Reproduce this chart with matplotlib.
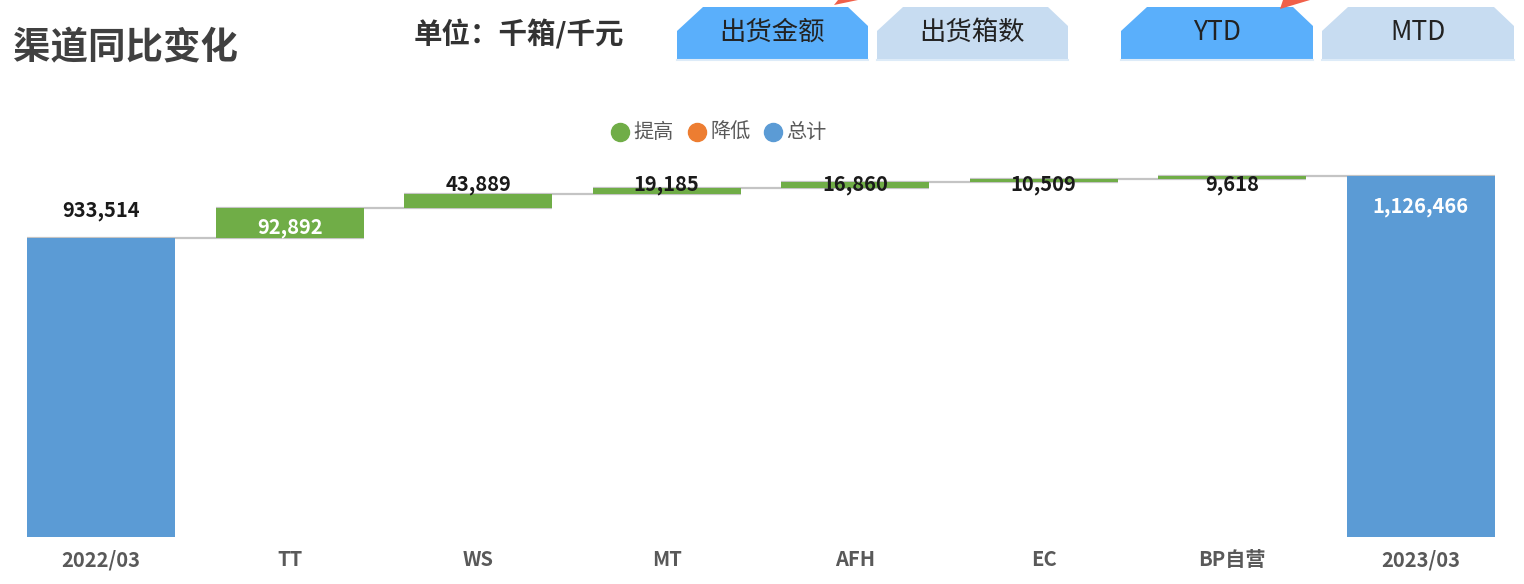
import matplotlib
matplotlib.use("Agg")
import matplotlib.pyplot as plt
from matplotlib.patches import Polygon
from matplotlib.lines import Line2D
import numpy as np

plt.rcParams['font.family'] = ['Noto Sans CJK SC', 'DejaVu Sans']

# ---- data ----
categories = ["2022/03", "TT", "WS", "MT", "AFH", "EC", "BP自营", "2023/03"]
start_total = 933514
changes = [92892, 43889, 19185, 16860, 10509, 9618]
end_total = 1126466
value_labels = ["933,514", "92,892", "43,889", "19,185", "16,860", "10,509", "9,618", "1,126,466"]
legend_labels = ["提高", "降低", "总计"]
title = "渠道同比变化"
unit_text = "单位：千箱/千元"
tab_labels = ["出货金额", "出货箱数", "YTD", "MTD"]

C_UP = "#70AD47"
C_DOWN = "#ED7D31"
C_TOTAL = "#5B9BD5"
C_TAB_ON = "#5AAFFB"
C_TAB_OFF = "#C7DCF1"

W, H = 1524, 584
fig = plt.figure(figsize=(W / 100, H / 100), dpi=100)

# main axes
ax_left, ax_right, ax_top, ax_bot = 7, 1515, 160, 537
ax = fig.add_axes([ax_left / W, (H - ax_bot) / H, (ax_right - ax_left) / W, (ax_bot - ax_top) / H])
ax.set_xlim(-0.5, len(categories) - 0.5)
ax.set_ylim(0, 1.176e6)

x = np.arange(len(categories))
bw = 0.785
cum = np.concatenate([[start_total], start_total + np.cumsum(changes)])
bottoms = [0] + list(cum[:-1]) + [0]
heights = [start_total] + changes + [end_total]
colors = [C_TOTAL] + [C_UP if c >= 0 else C_DOWN for c in changes] + [C_TOTAL]
ax.bar(x, heights, bottom=bottoms, width=bw, color=colors, zorder=2, linewidth=0)

# connectors
levels = list(cum)
for i, lv in enumerate(levels):
    ax.plot([x[i] - bw / 2, x[i + 1] + bw / 2], [lv, lv], color="#C4C4C4", lw=1.6, zorder=1,
            solid_capstyle="butt")

# labels
lab_kw = dict(ha="center", fontsize=14.5, fontweight="bold")
ax.annotate(value_labels[0], (x[0], start_total), xytext=(0, 12), textcoords="offset points",
            va="bottom", color="#1a1a1a", **lab_kw)
ax.annotate(value_labels[1], (x[1], bottoms[1] + heights[1] / 2), xytext=(0, -3), textcoords="offset points",
            va="center", color="white", **lab_kw)
small_level = cum[2]
for i in range(2, 7):
    ax.annotate(value_labels[i], (x[i], small_level), xytext=(0, -1), textcoords="offset points",
                va="bottom", color="#1a1a1a", **lab_kw)
ax.annotate(value_labels[7], (x[7], end_total), xytext=(0, -22), textcoords="offset points",
            va="center", color="white", **lab_kw)

ax.set_xticks(x)
ax.set_xticklabels(categories, fontsize=14.5, fontweight="bold", color="#595959")
ax.tick_params(axis="x", length=0, pad=9)
ax.set_yticks([])
for s in ax.spines.values():
    s.set_visible(False)
ax.patch.set_alpha(0)

# overlay for header decorations
ov = fig.add_axes([0, 0, 1, 1], zorder=-1)
ov.set_xlim(0, W)
ov.set_ylim(H, 0)
ov.axis("off")

fig.text(13 / W, 1 - 48 / H, title, fontsize=27, fontweight="bold", color="#404040", ha="left", va="center")
fig.text(414 / W, 1 - 34 / H, unit_text, fontsize=20.5, fontweight="bold", color="#333333", ha="left", va="center")

tabs = [(677, 868, C_TAB_ON), (877, 1068, C_TAB_OFF), (1121, 1313, C_TAB_ON), (1322, 1514, C_TAB_OFF)]
for (l, r, c), t in zip(tabs, tab_labels):
    poly = Polygon([(l, 60), (l, 31), (l + 26, 7), (r - 20, 7), (r, 26), (r, 60)], closed=True,
                   facecolor=c, edgecolor="none")
    ov.add_patch(poly)
    ov.add_line(Line2D([l, r], [60, 60], color="#DDEBF8", lw=1.5))
    ov.text((l + r) / 2, 32, t, fontsize=19, color="#222222", ha="center", va="center")

# small red pointer tips cut at the top
ov.add_patch(Polygon([(834, 5), (838, 0), (858, 0)], closed=True, facecolor="#F0604A", edgecolor="none"))
ov.add_patch(Polygon([(1280, 9), (1283, 0), (1310, 0)], closed=True, facecolor="#F0604A", edgecolor="none"))

# legend
leg_items = [(C_UP, legend_labels[0]), (C_DOWN, legend_labels[1]), (C_TOTAL, legend_labels[2])]
lx = [620, 697, 773]
for (c, t), px in zip(leg_items, lx):
    ov.plot(px, 132, "o", ms=13, color=c)
    ov.text(px + 13, 132, t, fontsize=14.5, color="#595959", ha="left", va="center")

fig.savefig("out.png", dpi=100, facecolor="white")
